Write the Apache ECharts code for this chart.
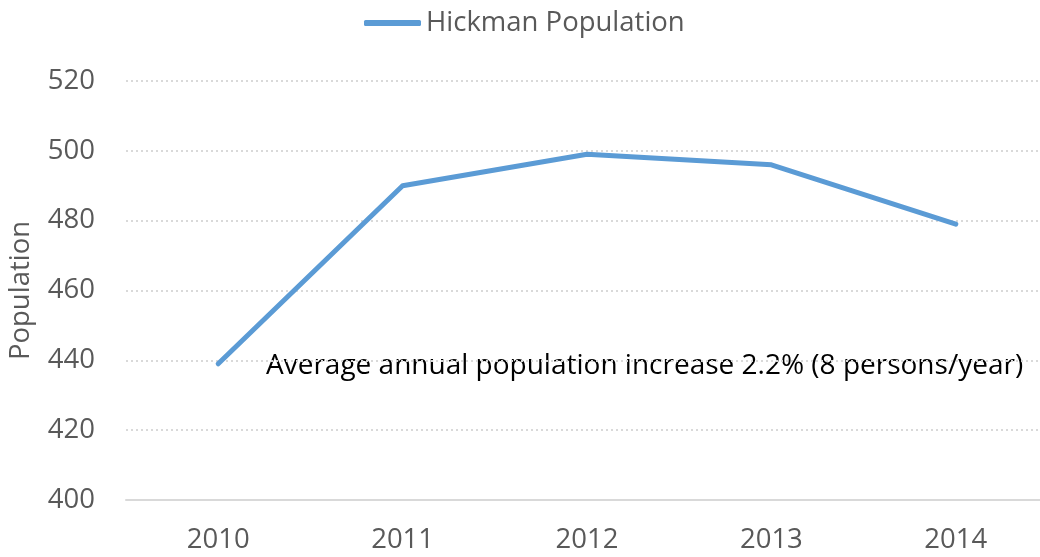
<!DOCTYPE html>
<html>
<head>
<meta charset="utf-8">
<script src="https://cdn.jsdelivr.net/npm/echarts@6/dist/echarts.min.js"></script>
<style>
  html, body { margin: 0; padding: 0; background: #fff; }
  #chart { width: 1040px; height: 557px; }
</style>
</head>
<body>
<div id="chart"></div>
<script>
// Hickman population by year
const years = ['2010', '2011', '2012', '2013', '2014'];
const population = [439, 490, 499, 496, 479];
const seriesName = 'Hickman Population';
const yAxisName = 'Population';
const note = 'Average annual population increase 2.2% (8 persons/year)';

const FONT = '"Open Sans", "Noto Sans", sans-serif';
const FS = 27.5;
const GREY_TEXT = '#595959';
const GRID_GREY = '#d9d9d9';
const BLUE = '#5b9bd5';

const chart = echarts.init(document.getElementById('chart'), null, { renderer: 'canvas' });

chart.setOption({
  animation: false,
  textStyle: { fontFamily: FONT },
  legend: {
    top: 4,
    left: 359,
    itemWidth: 57,
    itemHeight: 6,
    itemGap: 4,
    icon: 'roundRect',
    textStyle: { fontFamily: FONT, fontSize: FS, color: GREY_TEXT },
    data: [seriesName]
  },
  grid: {
    left: 126, right: -8, top: 81, bottom: 57,
    containLabel: false,
    outerBoundsMode: 'none'
  },
  xAxis: {
    type: 'category',
    data: years,
    boundaryGap: true,
    axisLine: { lineStyle: { color: GRID_GREY, width: 2 } },
    axisTick: { show: false },
    axisLabel: { fontFamily: FONT, fontSize: FS, color: GREY_TEXT, margin: 26 }
  },
  yAxis: {
    type: 'value',
    min: 400,
    max: 520,
    interval: 20,
    name: yAxisName,
    nameLocation: 'middle',
    nameGap: 91,
    nameRotate: 90,
    nameTextStyle: { fontFamily: FONT, fontSize: FS, color: GREY_TEXT },
    axisLine: { show: false },
    axisTick: { show: false },
    axisLabel: { fontFamily: FONT, fontSize: FS, color: GREY_TEXT, margin: 31 },
    splitLine: { lineStyle: { color: GRID_GREY, type: [2, 3], width: 2 } }
  },
  series: [{
    name: seriesName,
    type: 'line',
    data: population,
    showSymbol: false,
    symbol: 'none',
    lineStyle: { color: BLUE, width: 5, cap: 'round', join: 'round' },
    itemStyle: { color: BLUE }
  }],
  graphic: [{
    type: 'text',
    left: 266,
    top: 352,
    style: { text: note, fontFamily: FONT, fontSize: 28, fill: '#000' }
  }]
});
</script>
</body>
</html>
